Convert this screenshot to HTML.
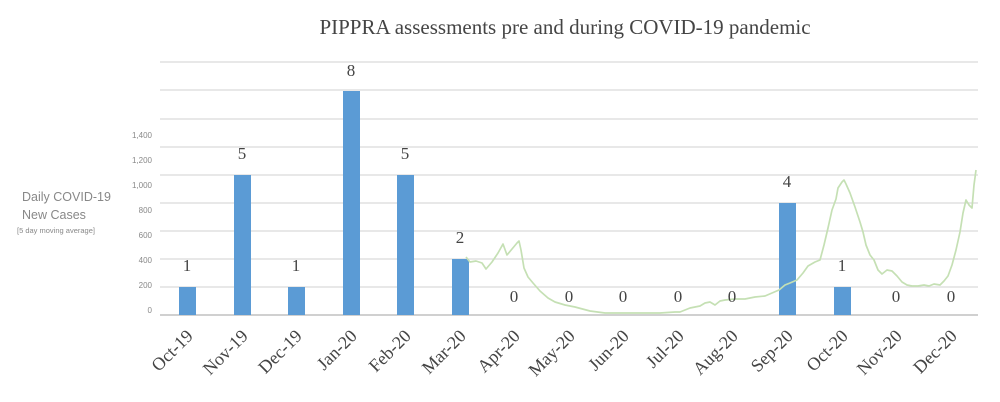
<!DOCTYPE html>
<html><head><meta charset="utf-8"><style>
html,body{margin:0;padding:0;background:#fff;}
svg{display:block;}
.t{font-family:"Liberation Serif",serif;fill:#444;}
.s{font-family:"Liberation Sans",sans-serif;fill:#888;}
</style></head><body>
<svg width="1000" height="402" viewBox="0 0 1000 402">
<text class="t" x="565" y="34" font-size="21" text-anchor="middle">PIPPRA assessments pre and during COVID-19 pandemic</text>
<g stroke="#d9d9d9" stroke-width="1.2">
<line x1="160" y1="62" x2="978" y2="62"/>
<line x1="160" y1="90" x2="978" y2="90"/>
<line x1="160" y1="119" x2="978" y2="119"/>
<line x1="160" y1="147" x2="978" y2="147"/>
<line x1="160" y1="175" x2="978" y2="175"/>
<line x1="160" y1="203" x2="978" y2="203"/>
<line x1="160" y1="231" x2="978" y2="231"/>
<line x1="160" y1="259" x2="978" y2="259"/>
<line x1="160" y1="287" x2="978" y2="287"/>
</g>
<line x1="160" y1="315" x2="978" y2="315" stroke="#d0d0d0" stroke-width="2"/>
<g class="s" font-size="8" text-anchor="end">
<text x="152" y="138">1,400</text><text x="152" y="163">1,200</text><text x="152" y="188">1,000</text>
<text x="152" y="213">800</text><text x="152" y="238">600</text><text x="152" y="263">400</text>
<text x="152" y="288">200</text><text x="152" y="313">0</text>
</g>
<text class="s" x="22" y="201" font-size="12.5">Daily COVID-19</text>
<text class="s" x="22" y="219" font-size="12.5">New Cases</text>
<text class="s" x="17" y="233" font-size="7.5">[5 day moving average]</text>
<g fill="#5b9bd5">
<rect x="179" y="287" width="17" height="28"/>
<rect x="234" y="175" width="17" height="140"/>
<rect x="288" y="287" width="17" height="28"/>
<rect x="343" y="91" width="17" height="224"/>
<rect x="397" y="175" width="17" height="140"/>
<rect x="452" y="259" width="17" height="56"/>
<rect x="779" y="203" width="17" height="112"/>
<rect x="834" y="287" width="17" height="28"/>
</g>
<polyline fill="none" stroke="#c5e0b4" stroke-width="1.7" stroke-linejoin="round" points="466,257 470,262 476,261 482,263 486,269 492,262 498,253 503,244 507,255 512,249 517,243 519,241 521,250 524,268 528,277 533,283 540,291 548,298 555,302 565,305 575,307 590,311 605,313 630,313 660,313 675,312 680,312 685,310 690,308 695,307 700,306 705,303 710,302 715,305 720,301 725,300 735,299 745,299 755,297 765,296 772,293 779,290 785,285 790,283 797,280 803,273 808,266 815,262 820,260 824,245 828,228 832,210 836,199 838,188 842,182 844,180 846,184 850,193 855,207 860,222 863,232 866,245 870,255 874,260 878,270 882,274 887,270 892,271 897,276 902,282 907,285 912,286 918,286 924,285 929,286 934,284 940,285 944,281 948,276 952,265 956,250 960,232 963,213 966,200 969,205 972,208 974,185 976,170"/>
<g class="t" font-size="17" text-anchor="middle">
<text x="187" y="271">1</text><text x="242" y="159">5</text><text x="296" y="271">1</text>
<text x="351" y="76">8</text><text x="405" y="159">5</text><text x="460" y="243">2</text>
<text x="514" y="302">0</text><text x="569" y="302">0</text><text x="623" y="302">0</text>
<text x="678" y="302">0</text><text x="732" y="302">0</text><text x="787" y="187">4</text>
<text x="842" y="271">1</text><text x="896" y="302">0</text><text x="951" y="302">0</text>
</g>
<g class="t" font-size="18" text-anchor="end">
<text transform="translate(194,337) rotate(-45)">Oct-19</text>
<text transform="translate(249,337) rotate(-45)">Nov-19</text>
<text transform="translate(303,337) rotate(-45)">Dec-19</text>
<text transform="translate(358,337) rotate(-45)">Jan-20</text>
<text transform="translate(412,337) rotate(-45)">Feb-20</text>
<text transform="translate(467,337) rotate(-45)">Mar-20</text>
<text transform="translate(521,337) rotate(-45)">Apr-20</text>
<text transform="translate(576,337) rotate(-45)">May-20</text>
<text transform="translate(630,337) rotate(-45)">Jun-20</text>
<text transform="translate(685,337) rotate(-45)">Jul-20</text>
<text transform="translate(739,337) rotate(-45)">Aug-20</text>
<text transform="translate(794,337) rotate(-45)">Sep-20</text>
<text transform="translate(849,337) rotate(-45)">Oct-20</text>
<text transform="translate(903,337) rotate(-45)">Nov-20</text>
<text transform="translate(958,337) rotate(-45)">Dec-20</text>
</g>
</svg>
</body></html>
